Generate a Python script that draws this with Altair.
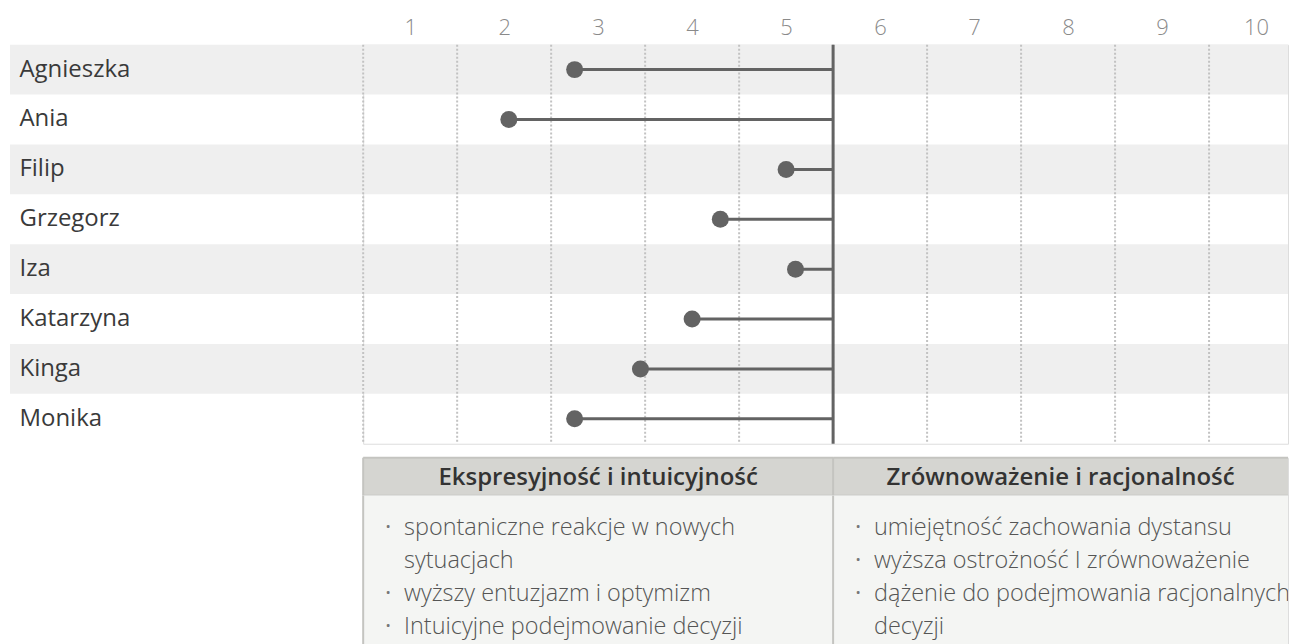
import altair as alt
import pandas as pd

# ---------------- data ----------------
names = ["Agnieszka", "Ania", "Filip", "Grzegorz", "Iza", "Katarzyna", "Kinga", "Monika"]
scores = [2.75, 2.05, 5.0, 4.3, 5.1, 4.0, 3.45, 2.75]
tick_values = [1, 2, 3, 4, 5, 6, 7, 8, 9, 10]
mid_value = 5.5
x_min, x_max = 0.5, 10.34   # visible part of the scale

headers = ["Ekspresyjność i intuicyjność", "Zrównoważenie i racjonalność"]
left_items = [["spontaniczne reakcje w nowych", "sytuacjach"],
              ["wyższy entuzjazm i optymizm"],
              ["Intuicyjne podejmowanie decyzji"]]
right_items = [["umiejętność zachowania dystansu"],
               ["wyższa ostrożność I zrównoważenie"],
               ["dążenie do podejmowania racjonalnych", "decyzji"]]

# ---------------- styles ----------------
W = 927
ROW_H = 50
FONT = "Open Sans"
DARK = "#636363"
BORDER = "#c4c4c0"

xscale = alt.Scale(domain=[x_min, x_max], nice=False, zero=False)

df = pd.DataFrame({"name": names, "score": scores})
df["mid"] = mid_value
df["shaded"] = [i % 2 == 0 for i in range(len(names))]

grid_df = pd.DataFrame({"g": [t - 0.5 for t in tick_values]})
mid_df = pd.DataFrame({"mid": [mid_value]})

yenc = alt.Y("name:N", sort=names,
             scale=alt.Scale(paddingInner=0, paddingOuter=0),
             axis=alt.Axis(title=None, domain=False, ticks=False, tickSize=0,
                           labelAlign="left", labelPadding=345, labelFontSize=24,
                           labelFont=FONT, labelColor="#3a3a3a", labelLimit=0,
                           zindex=1))

bands = alt.Chart(df).transform_filter("datum.shaded").mark_rect(color="#efefef").encode(
    y=yenc,
    x=alt.value(-354),
    x2=alt.value(W),
)

grid = alt.Chart(grid_df).mark_rule(color="#c2c2c2", strokeWidth=2, strokeDash=[2, 2]).encode(
    x=alt.X("g:Q", scale=xscale,
            axis=alt.Axis(orient="top", values=tick_values, title=None, domain=False,
                          ticks=False, tickSize=0, grid=False, labelPadding=5,
                          labelFontSize=22, labelFont=FONT, labelFontWeight=300,
                          labelColor="#8a8a8a", format="d"))
)

stems = alt.Chart(df).mark_rule(color=DARK, strokeWidth=3).encode(
    y=alt.Y("name:N", sort=names),
    x=alt.X("score:Q", scale=xscale),
    x2="mid:Q",
)

center = alt.Chart(mid_df).mark_rule(color=DARK, strokeWidth=3).encode(
    x=alt.X("mid:Q", scale=xscale)
)

dots = alt.Chart(df).mark_circle(color=DARK, opacity=1, size=290).encode(
    y=alt.Y("name:N", sort=names),
    x=alt.X("score:Q", scale=xscale),
)

top = alt.layer(bands, grid, stems, center, dots).properties(width=W, height=ROW_H * len(names))

# ---------------- table ----------------
hdr_df = pd.DataFrame({"title": headers, "x0": [x_min, mid_value], "x1": [mid_value, x_max]})
HDR_H = 38

hdr_rect = alt.Chart(hdr_df).mark_rect(fill="#d5d5d1").encode(
    x=alt.X("x0:Q", scale=xscale, axis=None),
    x2="x1:Q",
    y=alt.value(0),
    y2=alt.value(HDR_H),
)
hdr_top = alt.Chart(hdr_df).mark_rule(color=BORDER, strokeWidth=2).encode(
    x=alt.X("x0:Q", scale=xscale, axis=None), x2="x1:Q", y=alt.value(0))
hdr_bot = alt.Chart(hdr_df).mark_rule(color=BORDER, strokeWidth=2).encode(
    x=alt.X("x0:Q", scale=xscale, axis=None), x2="x1:Q", y=alt.value(HDR_H))
hdr_vert = alt.Chart(hdr_df).mark_rule(color=BORDER, strokeWidth=2).encode(
    x=alt.X("x0:Q", scale=xscale, axis=None))
hdr_text = alt.Chart(hdr_df).transform_calculate(xc="(datum.x0 + datum.x1) / 2").mark_text(
    font=FONT, fontSize=24, fontWeight=600, color="#333333", baseline="middle", align="center"
).encode(
    x=alt.X("xc:Q", scale=xscale, axis=None),
    y=alt.value(HDR_H / 2 + 1),
    text="title:N",
)
header = alt.layer(hdr_rect, hdr_text, hdr_top, hdr_bot, hdr_vert).properties(width=W, height=HDR_H)

rows = []
for x0, items in [(x_min, left_items), (mid_value, right_items)]:
    line = 0
    for item in items:
        for j, txt in enumerate(item):
            rows.append({"x0": x0, "line": line, "text": txt, "bullet": "·" if j == 0 else ""})
            line += 1
body_df = pd.DataFrame(rows)
n_lines = 4
BODY_H = 164

ybody = alt.Y("line:O", scale=alt.Scale(type="band", domain=list(range(n_lines)),
                                         paddingInner=0, paddingOuter=0.48), axis=None)

body_rect = alt.Chart(hdr_df).mark_rect(fill="#f4f5f3").encode(
    x=alt.X("x0:Q", scale=xscale, axis=None),
    x2="x1:Q",
    y=alt.value(0),
    y2=alt.value(BODY_H),
)
body_vert = alt.Chart(hdr_df).mark_rule(color=BORDER, strokeWidth=2).encode(
    x=alt.X("x0:Q", scale=xscale, axis=None))
bullets = alt.Chart(body_df).transform_filter("datum.bullet != ''").mark_text(
    font=FONT, fontSize=24, fontWeight=400, color="#777777", align="center", baseline="middle", dx=25
).encode(
    x=alt.X("x0:Q", scale=xscale, axis=None),
    y=ybody,
    text="bullet:N",
)
body_text = alt.Chart(body_df).mark_text(
    font=FONT, fontSize=23.5, fontWeight=300, color="#555555", align="left", baseline="middle",
    dx=41, clip=True
).encode(
    x=alt.X("x0:Q", scale=xscale, axis=None),
    y=ybody,
    text="text:N",
)
body = alt.layer(body_rect, body_vert, bullets, body_text).properties(width=W, height=BODY_H)

table = alt.vconcat(header, body, spacing=0, bounds="flush")

chart = alt.vconcat(top, table, spacing=14, bounds="flush").properties(
    padding={"left": 1, "top": 7, "right": 0, "bottom": 0}
).configure_view(stroke=None).configure(font=FONT)

chart.save("out.html", embed_options={"renderer": "svg", "actions": False})
